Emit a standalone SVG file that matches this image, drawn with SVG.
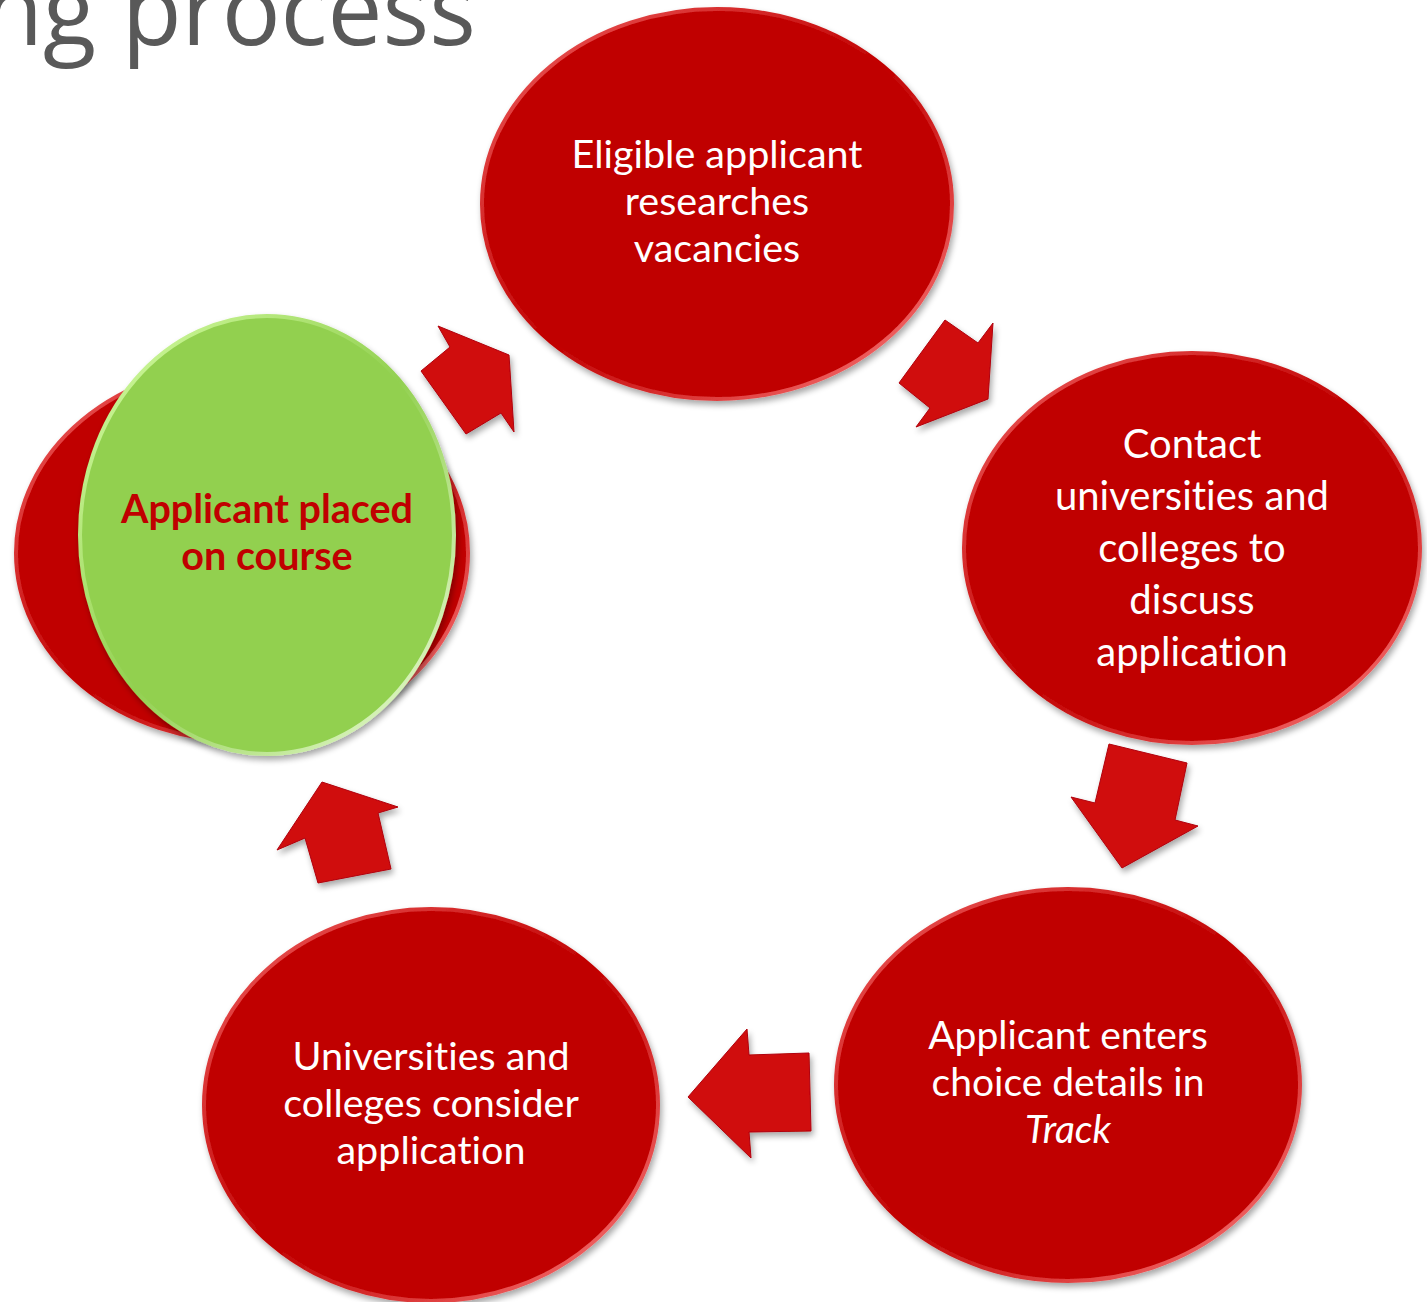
<svg xmlns="http://www.w3.org/2000/svg" width="1427" height="1302" viewBox="0 0 1427 1302">
<defs>
<filter id="sh" x="-10%" y="-10%" width="120%" height="125%">
<feGaussianBlur in="SourceAlpha" stdDeviation="3"/>
<feOffset dx="2" dy="4" result="b"/>
<feComponentTransfer><feFuncA type="linear" slope="0.35"/></feComponentTransfer>
<feMerge><feMergeNode/><feMergeNode in="SourceGraphic"/></feMerge>
</filter>
<linearGradient id="rim" x1="0" y1="0" x2="1" y2="1">
<stop offset="0" stop-color="#f06060"/>
<stop offset="0.5" stop-color="#c00000"/>
<stop offset="1" stop-color="#ff8080"/>
</linearGradient>
<linearGradient id="grim" x1="0" y1="0" x2="1" y2="1">
<stop offset="0" stop-color="#d8ffa8"/>
<stop offset="0.5" stop-color="#92d050"/>
<stop offset="1" stop-color="#f0ffe0"/>
</linearGradient>
</defs>
<style>
.node{fill:#c00000;stroke:url(#rim);stroke-width:4;filter:url(#sh)}
.green{fill:#92d050;stroke:url(#grim);stroke-width:4;filter:url(#sh)}
.arr{fill:#d00c10;stroke:#b00008;stroke-width:1;filter:url(#sh)}
.t{font-family:Lato,"Liberation Sans",sans-serif;fill:#ffffff;text-anchor:middle;font-variant-ligatures:none}
.g{font-family:Lato,"Liberation Sans",sans-serif;fill:#c00000;font-weight:bold;text-anchor:middle;font-size:39.5px;font-variant-ligatures:none}
.title{font-family:"Open Sans","Liberation Sans",sans-serif;fill:#595959;font-size:98px}
</style>
<rect width="1427" height="1302" fill="#ffffff"/>
<text class="title" x="476" y="45" text-anchor="end">ng process</text>

<g id="connectors">
<polygon class="arr" points="945,320 978,343 993,323 988,399 916,427 930,408 899,383"/>
<polygon class="arr" points="1109,744 1187,763 1175,820 1198,826 1122,868 1071,797 1095,803"/>
<polygon class="arr" points="688,1097 747,1029 749,1055 809,1053 811,1131 749,1132 751,1158"/>
<polygon class="arr" points="322,782 398,807 378,813 391,869 318,883 305,838 277,850"/>
<polygon class="arr" points="438,326 509,355 514,432 501,413 466,434 421,371 450,347"/>
</g>

<g id="node-top">
<ellipse class="node" cx="717" cy="204" rx="235" ry="195"/>
<text class="t" font-size="39.5" x="717" y="168">Eligible applicant</text>
<text class="t" font-size="39.5" x="717" y="215">researches</text>
<text class="t" font-size="39.5" x="717" y="262">vacancies</text>
</g>

<g id="node-right">
<ellipse class="node" cx="1192" cy="548" rx="228" ry="195"/>
<text class="t" font-size="40" x="1192" y="458">Contact</text>
<text class="t" font-size="40" x="1192" y="510">universities and</text>
<text class="t" font-size="40" x="1192" y="562">colleges to</text>
<text class="t" font-size="40" x="1192" y="614">discuss</text>
<text class="t" font-size="40" x="1192" y="666">application</text>
</g>

<g id="node-bottom-right">
<ellipse class="node" cx="1068" cy="1085" rx="232" ry="196"/>
<text class="t" font-size="39" x="1068" y="1049">Applicant enters</text>
<text class="t" font-size="39" x="1068" y="1096">choice details in</text>
<text class="t" font-size="39" x="1068" y="1143" font-style="italic">Track</text>
</g>

<g id="node-bottom-left">
<ellipse class="node" cx="431" cy="1105" rx="227" ry="196"/>
<text class="t" font-size="39.5" x="431" y="1070">Universities and</text>
<text class="t" font-size="39.5" x="431" y="1117">colleges consider</text>
<text class="t" font-size="39.5" x="431" y="1164">application</text>
</g>

<g id="node-placed">
<ellipse class="node" cx="242" cy="553" rx="226" ry="188"/>
<ellipse class="green" cx="267" cy="535" rx="187" ry="219"/>
<text class="g" x="267" y="523">Applicant placed</text>
<text class="g" x="267" y="570">on course</text>
</g>
</svg>
